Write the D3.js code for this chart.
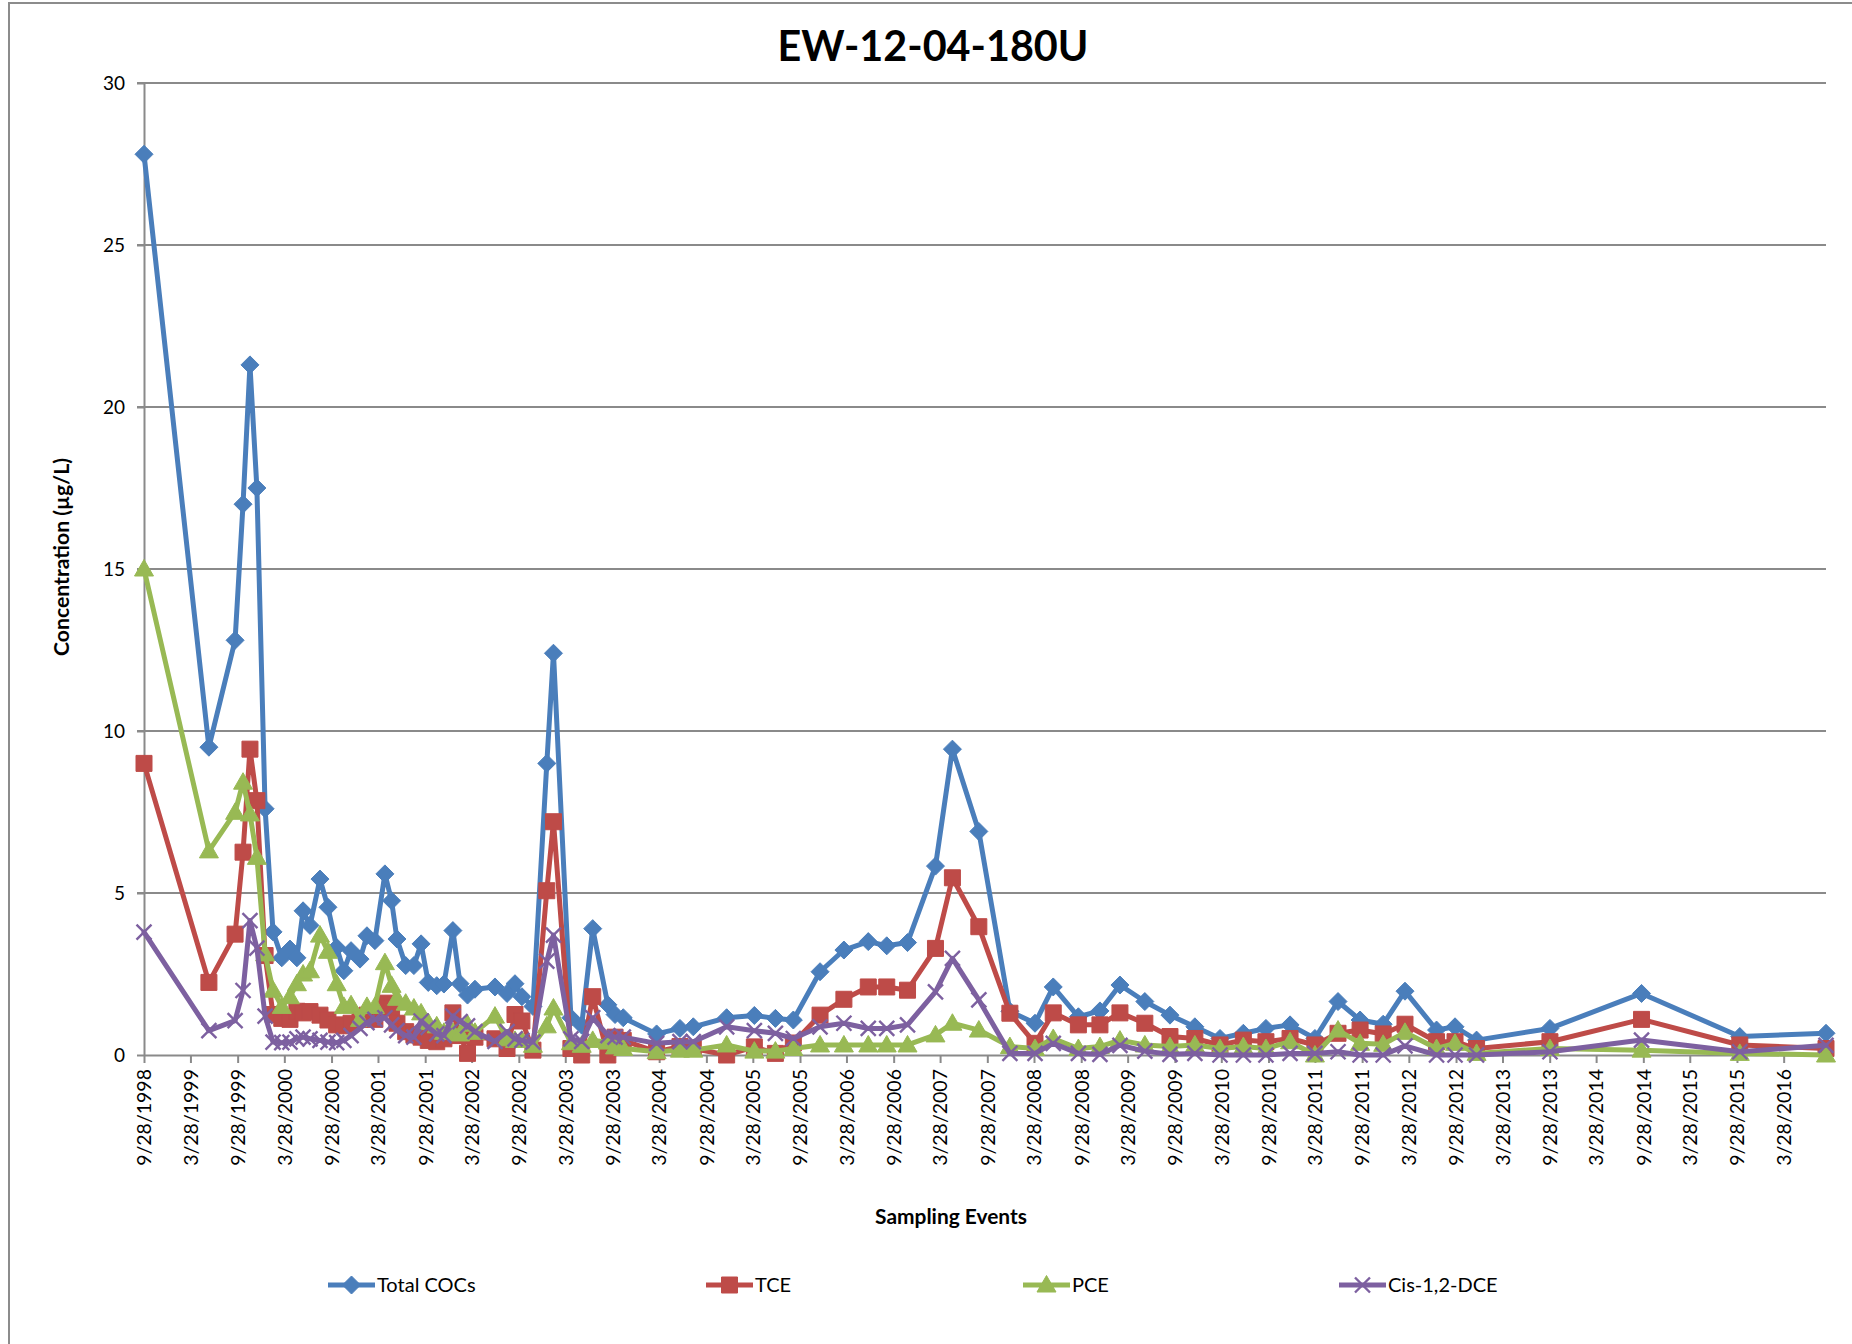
<!DOCTYPE html>
<html>
<head>
<meta charset="utf-8">
<script src="https://cdn.jsdelivr.net/npm/d3@7"></script>
<style>
  html, body { margin: 0; padding: 0; background: #ffffff; }
  svg { display: block; font-family: Lato, "Open Sans", sans-serif; }
</style>
</head>
<body>
<svg id="chart" width="1852" height="1344"></svg>
<script>
// ---------------- DATA ----------------
const chartTitle = "EW-12-04-180U";
const yAxisTitle = "Concentration (µg/L)";
const xAxisTitle = "Sampling Events";
const seriesNames = ["Total COCs", "TCE", "PCE", "Cis-1,2-DCE"];

const sampleDates = [
  "1998-09-28","1999-06-08","1999-09-18","1999-10-19","1999-11-15","1999-12-12","2000-01-13","2000-02-13","2000-03-18","2000-04-19",
  "2000-05-16","2000-06-09","2000-07-06","2000-08-14","2000-09-14","2000-10-18","2000-11-15","2000-12-13","2001-01-17","2001-02-13",
  "2001-03-16","2001-04-24","2001-05-20","2001-06-10","2001-07-14","2001-08-15","2001-09-12","2001-10-10","2001-11-12","2001-12-10",
  "2002-01-14","2002-02-11","2002-03-12","2002-04-10","2002-06-27","2002-08-13","2002-09-13","2002-10-10","2002-11-22","2003-01-15",
  "2003-02-10","2003-04-19","2003-05-31","2003-07-13","2003-09-10","2003-10-08","2003-11-09","2004-03-18","2004-06-17","2004-08-08",
  "2004-12-16","2005-04-03","2005-06-24","2005-09-02","2005-12-15","2006-03-18","2006-06-21","2006-09-01","2006-11-21","2007-03-10",
  "2007-05-15","2007-08-26","2007-12-25","2008-04-01","2008-06-11","2008-09-17","2008-12-10","2009-02-26","2009-06-03","2009-09-09",
  "2009-12-15","2010-03-23","2010-06-22","2010-09-18","2010-12-21","2011-03-28","2011-06-26","2011-09-20","2011-12-19","2012-03-13",
  "2012-07-14","2012-09-24","2012-12-17","2013-09-29","2014-09-21","2015-10-09","2016-09-09"
];

const totalCOCs = [
  27.8, 9.5, 12.8, 17.0, 21.3, 17.5, 7.6, 3.8, 3.0, 3.27,
  3.0, 4.45, 4.0, 5.43, 4.56, 3.32, 2.6, 3.22, 2.96, 3.68,
  3.53, 5.59, 4.76, 3.58, 2.76, 2.76, 3.43, 2.24, 2.14, 2.19,
  3.84, 2.2, 1.85, 2.03, 2.1, 1.9, 2.2, 1.8, 1.5, 9.0,
  12.4, 1.15, 0.92, 3.9, 1.55, 1.25, 1.15, 0.65, 0.82, 0.87,
  1.15, 1.22, 1.13, 1.08, 2.57, 3.24, 3.5, 3.37, 3.47, 5.83,
  9.44, 6.9, 1.35, 0.98, 2.1, 1.18, 1.36, 2.16, 1.65, 1.23,
  0.87, 0.51, 0.67, 0.82, 0.93, 0.51, 1.65, 1.08, 0.95, 1.97,
  0.77, 0.87, 0.46, 0.82, 1.9, 0.57, 0.67
];

const tce = [
  9.0, 2.24, 3.73, 6.26, 9.44, 7.85, 3.07, 1.25, 1.13, 1.1,
  1.35, 1.3, 1.34, 1.23, 1.08, 0.93, 0.9, 0.98, 1.1, 1.23,
  1.1, 1.6, 1.45, 0.98, 0.72, 0.62, 0.55, 0.45, 0.41, 0.5,
  1.3, 0.6, 0.05, 0.55, 0.5, 0.2, 1.25, 1.05, 0.15, 5.07,
  7.2, 0.2, 0.0, 1.8, 0.0, 0.55, 0.45, 0.1, 0.26, 0.2,
  0.0, 0.25, 0.05, 0.37, 1.23, 1.72, 2.1, 2.1, 2.0, 3.29,
  5.47, 3.96, 1.29, 0.36, 1.3, 0.93, 0.93, 1.3, 0.98, 0.57,
  0.51, 0.31, 0.46, 0.41, 0.51, 0.31, 0.67, 0.77, 0.65, 0.95,
  0.41, 0.41, 0.2, 0.41, 1.1, 0.31, 0.2
];

const pce = [
  15.0, 6.3, 7.49, 8.42, 7.44, 6.1, 3.12, 2.0, 1.5, 1.8,
  2.2, 2.5, 2.6, 3.7, 3.2, 2.2, 1.5, 1.55, 1.1, 1.5,
  1.5, 2.85, 2.15, 1.75, 1.6, 1.45, 1.3, 1.0, 0.9, 0.7,
  0.7, 0.65, 0.95, 0.7, 1.2, 0.5, 0.45, 0.45, 0.3, 0.9,
  1.45, 0.38, 0.3, 0.45, 0.4, 0.25, 0.2, 0.1, 0.15, 0.15,
  0.31, 0.12, 0.12, 0.2, 0.31, 0.31, 0.31, 0.31, 0.31, 0.62,
  0.98, 0.77, 0.26, 0.2, 0.51, 0.2, 0.26, 0.46, 0.31, 0.26,
  0.31, 0.2, 0.26, 0.2, 0.41, 0.0, 0.77, 0.36, 0.33, 0.7,
  0.2, 0.36, 0.05, 0.2, 0.15, 0.05, 0.0
];

const cisDCE = [
  3.79, 0.75, 1.06, 1.99, 4.15, 3.3, 1.2, 0.4, 0.38, 0.4,
  0.5, 0.55, 0.5, 0.45, 0.4, 0.38, 0.45, 0.6, 0.82, 1.0,
  1.1, 1.15, 0.93, 0.75, 0.6, 0.55, 1.05, 0.85, 0.65, 0.6,
  1.2, 1.03, 0.9, 0.72, 0.42, 0.72, 0.5, 0.45, 0.4, 2.9,
  3.7, 0.5, 0.42, 1.15, 0.6, 0.55, 0.55, 0.36, 0.41, 0.41,
  0.87, 0.75, 0.67, 0.51, 0.87, 0.98, 0.82, 0.82, 0.93, 1.95,
  2.98, 1.7, 0.05, 0.05, 0.36, 0.05, 0.02, 0.3, 0.12, 0.02,
  0.05, 0.0, 0.0, 0.0, 0.05, 0.05, 0.1, 0.0, 0.0, 0.28,
  0.0, 0.0, 0.0, 0.1, 0.46, 0.1, 0.3
];

const xTickLabels = [
  "9/28/1998","3/28/1999","9/28/1999","3/28/2000","9/28/2000","3/28/2001","9/28/2001","3/28/2002","9/28/2002","3/28/2003",
  "9/28/2003","3/28/2004","9/28/2004","3/28/2005","9/28/2005","3/28/2006","9/28/2006","3/28/2007","9/28/2007","3/28/2008",
  "9/28/2008","3/28/2009","9/28/2009","3/28/2010","9/28/2010","3/28/2011","9/28/2011","3/28/2012","9/28/2012","3/28/2013",
  "9/28/2013","3/28/2014","9/28/2014","3/28/2015","9/28/2015","3/28/2016"
];
const yTickValues = [0, 5, 10, 15, 20, 25, 30];

// ---------------- CHART ----------------
const svg = d3.select("#chart");
const parseISO = d3.timeParse("%Y-%m-%d");
const parseMDY = d3.timeParse("%m/%d/%Y");
const dates = sampleDates.map(parseISO);
const tickDates = xTickLabels.map(parseMDY);

const plot = { left: 144, right: 1826, top: 83, bottom: 1055 };
const x = d3.scaleTime().domain([dates[0], dates[dates.length - 1]]).range([plot.left, plot.right]);
const y = d3.scaleLinear().domain([0, 30]).range([plot.bottom, plot.top]);

const gridColor = "#8a8a8a";
const textColor = "#000000";

// outer chart frame (cropped at right/bottom in the reference)
svg.append("rect")
  .attr("x", 9).attr("y", 3).attr("width", 1900).attr("height", 1400)
  .attr("fill", "none").attr("stroke", "#8c8c8c").attr("stroke-width", 2);

function fitWidth(sel, target) {
  const w = sel.node().getComputedTextLength();
  const fs = parseFloat(sel.attr("font-size"));
  if (w > 0) sel.attr("font-size", (fs * target / w).toFixed(2));
}

// title
const title = svg.append("text")
  .attr("x", 933).attr("y", 61)
  .attr("text-anchor", "middle")
  .attr("font-weight", "bold")
  .attr("font-size", 42)
  .attr("fill", textColor)
  .text(chartTitle);
fitWidth(title, 311);

// gridlines
svg.append("g").selectAll("line")
  .data(yTickValues.filter(v => v > 0))
  .join("line")
  .attr("x1", plot.left - 7).attr("x2", plot.right)
  .attr("y1", d => y(d)).attr("y2", d => y(d))
  .attr("stroke", gridColor).attr("stroke-width", 2);

// y axis
const yAxisG = svg.append("g")
  .attr("transform", `translate(${plot.left},0)`)
  .call(d3.axisLeft(y).tickValues(yTickValues).tickSize(7).tickSizeOuter(0).tickPadding(12));
yAxisG.select(".domain").attr("stroke", gridColor).attr("stroke-width", 2);
yAxisG.selectAll(".tick line").attr("stroke", gridColor).attr("stroke-width", 2);
yAxisG.selectAll(".tick text")
  .attr("font-size", 19).attr("fill", textColor)
  .style("font-family", "Lato, 'Open Sans', sans-serif");

// x axis
const xAxisG = svg.append("g")
  .attr("transform", `translate(0,${plot.bottom})`)
  .call(d3.axisBottom(x).tickValues(tickDates).tickFormat((d, i) => xTickLabels[i]).tickSize(8).tickSizeOuter(0));
xAxisG.select(".domain").attr("stroke", gridColor).attr("stroke-width", 2);
xAxisG.selectAll(".tick line").attr("stroke", gridColor).attr("stroke-width", 2);
xAxisG.selectAll(".tick text")
  .attr("transform", "rotate(-90)")
  .attr("x", -14).attr("y", 0).attr("dy", "0.35em")
  .attr("text-anchor", "end")
  .attr("font-size", 19.5).attr("fill", textColor)
  .style("font-family", "Lato, 'Open Sans', sans-serif");

// axis titles
const yTitle = svg.append("text")
  .attr("transform", "translate(69,557) rotate(-90)")
  .attr("text-anchor", "middle")
  .attr("font-weight", "bold").attr("font-size", 19).attr("fill", textColor)
  .text(yAxisTitle);
fitWidth(yTitle, 198);

const xTitle = svg.append("text")
  .attr("x", 951).attr("y", 1224)
  .attr("text-anchor", "middle")
  .attr("font-weight", "bold").attr("font-size", 20).attr("fill", textColor)
  .text(xAxisTitle);
fitWidth(xTitle, 152);

// series
const markerPaths = {
  diamond: "M0,-9L9,0L0,9L-9,0Z",
  square: "M-8,-8H8V8H-8Z",
  triangle: "M0,-9.5L9.5,7L-9.5,7Z",
  cross: "M-7.5,-7.5L7.5,7.5M-7.5,7.5L7.5,-7.5"
};
const series = [
  { name: seriesNames[0], values: totalCOCs, color: "#4A7EBB", marker: "diamond" },
  { name: seriesNames[1], values: tce, color: "#BE4B48", marker: "square" },
  { name: seriesNames[2], values: pce, color: "#98B954", marker: "triangle" },
  { name: seriesNames[3], values: cisDCE, color: "#7D60A0", marker: "cross" }
];

function drawMarker(g, s) {
  const p = g.append("path").attr("d", markerPaths[s.marker]);
  if (s.marker === "cross") {
    p.attr("fill", "none").attr("stroke", s.color).attr("stroke-width", 2.4);
  } else {
    p.attr("fill", s.color).attr("stroke", s.color).attr("stroke-width", 1);
  }
}

series.forEach(s => {
  const pts = dates.map((d, i) => ({ date: d, value: s.values[i] })).filter(p => p.value != null);
  const line = d3.line().x(p => x(p.date)).y(p => y(p.value));
  const g = svg.append("g");
  g.append("path").datum(pts)
    .attr("d", line)
    .attr("fill", "none")
    .attr("stroke", s.color)
    .attr("stroke-width", 5)
    .attr("stroke-linejoin", "round")
    .attr("stroke-linecap", "round");
  g.selectAll("g.mk").data(pts).join("g")
    .attr("class", "mk")
    .attr("transform", p => `translate(${x(p.date)},${y(p.value)})`)
    .each(function () { drawMarker(d3.select(this), s); });
});

// legend
const legendX = [328, 706, 1023, 1339];
const legendY = 1285;
series.forEach((s, i) => {
  const g = svg.append("g").attr("transform", `translate(${legendX[i]},${legendY})`);
  g.append("line").attr("x1", 0).attr("x2", 47).attr("y1", 0).attr("y2", 0)
    .attr("stroke", s.color).attr("stroke-width", 5);
  const m = g.append("g").attr("transform", "translate(23.5,0)");
  drawMarker(m, s);
  g.append("text").attr("x", 49).attr("y", 0).attr("dy", "0.36em")
    .attr("font-size", 20).attr("fill", textColor)
    .text(s.name);
});
</script>
</body>
</html>
